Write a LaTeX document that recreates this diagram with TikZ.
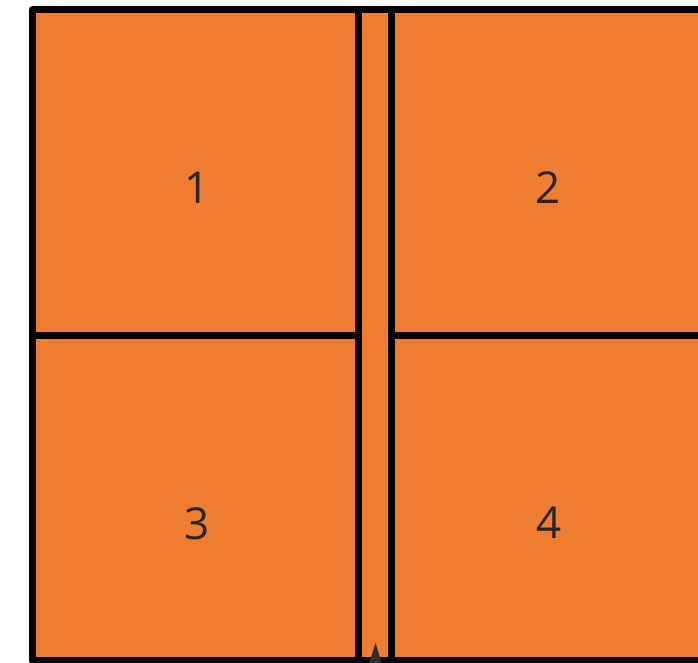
\documentclass[tikz,border=0pt]{standalone}
\usepackage{fontspec}
\setmainfont{Open Sans}
\usepackage{tikz}
\usetikzlibrary{positioning}

\definecolor{roomorange}{HTML}{EE7D32}
\definecolor{markgray}{HTML}{2E2E2E}

\begin{document}
\begin{tikzpicture}[
  x=0.75pt, y=-0.75pt,
  wall/.style={draw=black, line width=5.25pt, line join=round},
  roomlabel/.style={font=\fontsize{33}{36}\selectfont, text=black!85, inner sep=0pt}
]
\useasboundingbox (0,0) rectangle (698,662);
\clip (0,0) rectangle (698,662);

% --- floor ---
\fill[roomorange] (32.5,9.5) rectangle (705,660.5);

% --- corridor walls and room dividers ---
\coordinate (corrtop) at (358.3,9.5);
\coordinate (corrbot) at (358.3,660.5);
\coordinate (corrtopr) at (391,9.5);
\coordinate (corrbotr) at (391,660.5);
\coordinate (midl) at (32.5,335.7);
\coordinate (midr) at (705,335.7);

\draw[wall] (corrtop) -- (corrbot);
\draw[wall] (corrtopr) -- (corrbotr);
\draw[wall] (midl) -- (corrtop |- midl);
\draw[wall] (corrtopr |- midr) -- (midr);
\draw[wall] (32.5,9.5) rectangle (705,660.5);

% --- room numbers ---
\node[roomlabel] (room1) at (197,188) {1};
\node[roomlabel] (room2) at (548,188) {2};
\node[roomlabel] (room3) at (197,524) {3};
\node[roomlabel] (room4) at (549,523) {4};

% entrance marker
\fill[markgray] (369,664) -- (375.5,643) -- (382,664) -- cycle;
\end{tikzpicture}
\end{document}
